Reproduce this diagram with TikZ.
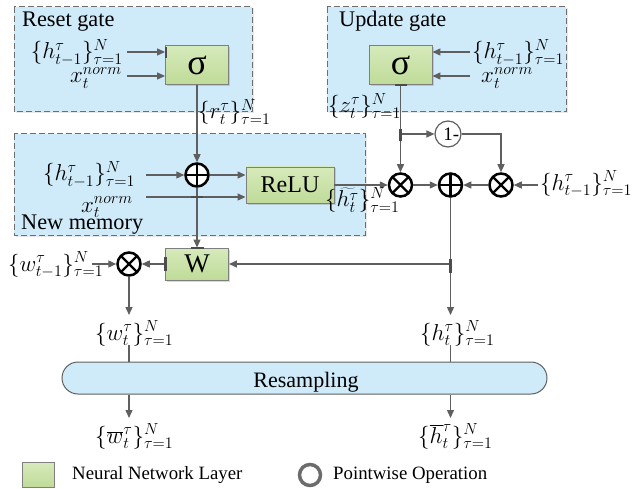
\documentclass[tikz,border=0pt]{standalone}
\usepackage{fix-cm}
\usepackage{fontspec}
\setmainfont{Liberation Serif}
\usetikzlibrary{arrows.meta,shadows,calc}

\definecolor{gatefill}{HTML}{CFEAF8}
\definecolor{gateline}{HTML}{6E6E6E}
\definecolor{layertop}{HTML}{D6EABB}
\definecolor{layerbot}{HTML}{BFDB98}
\definecolor{layerline}{HTML}{7F7F7F}
\definecolor{wirecol}{HTML}{5F5F5F}
\definecolor{resfill}{HTML}{CFEAF8}

\newcommand\setN[1]{\{#1\}^{N}_{\tau=1}}

\tikzset{
  gatebox/.style={draw=gateline, fill=gatefill, line width=1pt,
    dash pattern=on 6pt off 3pt,
    drop shadow={shadow xshift=1.5pt, shadow yshift=-1.5pt, opacity=0.18}},
  layer/.style={draw=layerline, line width=0.9pt, top color=layertop,
    bottom color=layerbot, inner sep=0pt,
    drop shadow={shadow xshift=1.5pt, shadow yshift=-1.5pt, opacity=0.3}},
  wire/.style={draw=wirecol, line width=1.3pt},
  flow/.style={wire, -{Triangle[length=8pt,width=7pt]}},
  op/.style={circle, draw=black, fill=white, line width=2.5pt,
    minimum size=23pt, inner sep=0pt},
  oplus/.style={op, path picture={\draw[line width=2.3pt]
      (path picture bounding box.north) -- (path picture bounding box.south)
      (path picture bounding box.west) -- (path picture bounding box.east);}},
  otimes/.style={op, path picture={\draw[line width=2.3pt]
      (path picture bounding box.north east) -- (path picture bounding box.south west)
      (path picture bounding box.north west) -- (path picture bounding box.south east);}},
  invop/.style={circle, draw=wirecol, fill=white, line width=1.2pt,
    minimum size=26pt, inner sep=0pt},
  glue/.style={draw=black!70, line width=2.6pt},
  txt/.style={inner sep=0pt, font=\fontsize{22.3}{26}\selectfont},
  mlbl/.style={inner sep=0pt, font=\fontsize{23}{27}\selectfont},
  legtxt/.style={inner sep=0pt, font=\fontsize{18.8}{22}\selectfont},
}

\begin{document}
\begin{tikzpicture}[x=1pt,y=-1pt]
\useasboundingbox (0,0) rectangle (634,489);

% ---- dashed gate regions ----
\draw[gatebox] (14,7) rectangle (252,112);
\draw[gatebox] (327,7) rectangle (566,112);
\draw[gatebox] (14,134) rectangle (365,235);
\node[txt, anchor=base west] (resetlbl) at (22,27) {Reset gate};
\node[txt, anchor=base west] (updatelbl) at (339,27) {Update gate};
\node[txt, anchor=base west] (memlbl) at (21,229) {New memory};

% ---- resampling bar ----
\node[draw=wirecol, fill=resfill, line width=1pt, rounded corners=16pt,
      minimum width=485pt, minimum height=32pt, inner sep=0pt] (res) at (304.5,378) {};
\node[inner sep=0pt, anchor=base] (restxt) at (306,387) {\fontsize{22}{26}\selectfont Resampling};

% ---- neural network layers ----
\node[layer, minimum width=63pt, minimum height=39pt] (sr) at (197,65)
  {\fontsize{36}{36}\selectfont σ};
\node[layer, minimum width=63pt, minimum height=39pt] (sz) at (400.5,65)
  {\fontsize{36}{36}\selectfont σ};
\node[layer, minimum width=88pt, minimum height=36pt] (relu) at (290,185)
  {\fontsize{24}{28}\selectfont ReLU};
\node[layer, minimum width=63pt, minimum height=32pt] (W) at (197,264)
  {\fontsize{27}{30}\selectfont W};

% ---- pointwise operations ----
\node[oplus]  (addh) at (197,175) {};
\node[otimes] (mulz) at (400.5,185) {};
\node[oplus]  (addo) at (450.5,185) {};
\node[otimes] (mulh) at (501,185) {};
\node[otimes] (mulw) at (129,264) {};
\node[invop]  (inv)  at (448,134) {\fontsize{19}{20}\selectfont 1\rlap{-}};

% ---- free ends of connectors ----
\coordinate (rh) at (127,52);
\coordinate (rx) at (127,76);
\coordinate (uh) at (470,52);
\coordinate (ux) at (470,76);
\coordinate (hnm) at (146,175);
\coordinate (xnm) at (146,197);
\coordinate (hin) at (538,185);
\coordinate (win) at (92,264);
\coordinate (zbr) at (400.5,134);
\coordinate (wbr) at (450.5,264);
\coordinate (wout) at (129,315);
\coordinate (hout) at (450.5,315);
\coordinate (wtop) at (129,345);
\coordinate (htop) at (450.5,345);
\coordinate (wbar) at (129,418);
\coordinate (hbar) at (450.5,418);

% ---- connectors ----
\draw[flow] (rh) -- (sr.west |- rh);
\draw[flow] (rx) -- (sr.west |- rx);
\draw[flow] (uh) -- (sz.east |- uh);
\draw[flow] (ux) -- (sz.east |- ux);
\draw[flow] (sr.south) -- (addh.north);
\draw[flow] (sz.south) -- (mulz.north);
\draw[flow] (zbr) -- (inv.west);
\draw[flow] (inv.east) -| (mulh.north);
\draw[flow] (hnm) -- (addh.west);
\draw[flow] (addh.east) -- (relu.west |- addh.east);
\draw[flow] (xnm) -- (relu.west |- xnm);
\draw[flow] (relu.east) -- (mulz.west);
\draw[flow] (mulz.east) -- (addo.west);
\draw[flow] (mulh.west) -- (addo.east);
\draw[flow] (hin) -- (mulh.east);
\draw[flow] (addo.south) -- (hout);
\draw[flow] (wbr) -- (W.east);
\draw[flow] (addh.south) -- (W.north);
\draw[flow] (W.west) -- (mulw.east);
\draw[flow] (win) -- (mulw.west);
\draw[flow] (mulw.south) -- (wout);
\draw[wire] (wtop) -- (res.north -| wtop);
\draw[wire] (htop) -- (res.north -| htop);
\draw[flow] (res.south -| wbar) -- (wbar);
\draw[flow] (res.south -| hbar) -- (hbar);

% ---- glue marks at joints ----
\draw[glue] (166,47) -- (166,58);
\draw[glue] (395,85) -- (407,85);
\draw[glue] (400.5,129) -- (400.5,141);
\draw[glue] (191,197) -- (203,197);
\draw[glue] (191,248) -- (204,248);
\draw[glue] (165.5,257) -- (165.5,271);
\draw[glue] (450.5,259) -- (450.5,273);

% ---- variable labels ----
\node[mlbl, anchor=base east] (lrh) at (123,59) {$\setN{h^{\tau}_{t-1}}$};
\node[mlbl, anchor=base east] (lrx) at (122,83) {$x^{norm}_{t}$};
\node[mlbl, anchor=base west] (luh) at (472,59) {$\setN{h^{\tau}_{t-1}}$};
\node[mlbl, anchor=base west] (lux) at (481,83) {$x^{norm}_{t}$};
\node[mlbl, anchor=base west] (lr) at (198,119) {$\setN{r^{\tau}_{t}}$};
\node[mlbl, anchor=base west] (lz) at (328,113) {$\setN{z^{\tau}_{t}}$};
\node[mlbl, anchor=base west] (lnh) at (43,181) {$\setN{h^{\tau}_{t-1}}$};
\node[mlbl, anchor=base east] (lnx) at (133,212) {$x^{norm}_{t}$};
\node[mlbl, anchor=base west] (lht) at (325,207) {$\setN{\widetilde{h^{\tau}_{t}}}$};
\node[mlbl, anchor=base west] (lhr) at (540,190) {$\setN{h^{\tau}_{t-1}}$};
\node[mlbl, anchor=base west] (lw1) at (8,271) {$\setN{w^{\tau}_{t-1}}$};
\node[mlbl, anchor=base west] (lw) at (95,340) {$\setN{w^{\tau}_{t}}$};
\node[mlbl, anchor=base west] (lh) at (420,340) {$\setN{h^{\tau}_{t}}$};
\node[mlbl, anchor=base west] (lwb) at (95,443) {$\setN{\overline{w}^{\tau}_{t}}$};
\node[mlbl, anchor=base west] (lhb) at (418,443) {$\setN{\overline{h}^{\tau}_{t}}$};

% ---- legend ----
\node[draw=layerline, line width=0.9pt, top color=layertop, bottom color=layerbot,
      minimum width=32pt, minimum height=25pt, inner sep=0pt] (legsq) at (38,475) {};
\node[legtxt, anchor=base west] (legsqtxt) at (72,479) {Neural Network Layer};
\node[circle, draw=gray!85!black, line width=3.5pt, minimum size=21pt,
      inner sep=0pt] (legop) at (310,475) {};
\node[legtxt, anchor=base west] (legoptxt) at (333,479) {Pointwise Operation};
\end{tikzpicture}
\end{document}
